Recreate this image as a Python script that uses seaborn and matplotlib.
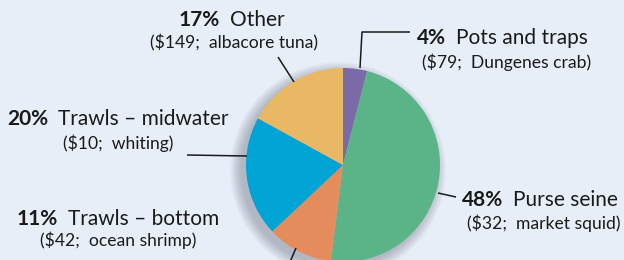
import matplotlib
matplotlib.use("Agg")
import matplotlib.pyplot as plt
import seaborn as sns
from matplotlib.patches import Circle

# Share of landings value by gear type (clockwise from 12 o'clock)
gears = ["Pots and traps", "Purse seine", "Trawls \u2013 bottom", "Trawls \u2013 midwater", "Other"]
shares = [4, 48, 11, 20, 17]
dollars = ["$79", "$32", "$42", "$10", "$149"]
species = ["Dungenes crab", "market squid", "ocean shrimp", "whiting", "albacore tuna"]
colors = ["#7A6AA8", "#5BB487", "#E58C5C", "#00A4D4", "#E9B865"]

BG = "#E8EEF8"
W, H = 624, 260

sns.set_theme(style="white")
plt.rcParams["font.family"] = ["Lato", "DejaVu Sans"]

fig = plt.figure(figsize=(W / 100, H / 100), dpi=100, facecolor=BG)
ax = fig.add_axes([0, 0, 1, 1])
ax.set_facecolor(BG)

cx, cy, r = 343, H - 165, 97

# soft drop shadow, mostly down-left of the pie
for k in range(12):
    ax.add_patch(Circle((cx - 5, cy - 5), r + 11 - k, color="#4a5060",
                        alpha=0.03, lw=0, zorder=1))

ax.pie(shares, colors=colors, startangle=90, counterclock=False,
       center=(cx, cy), radius=r, frame=True,
       wedgeprops=dict(linewidth=0, zorder=2))
ax.set_xlim(0, W)
ax.set_ylim(0, H)
ax.set_aspect("equal")
ax.axis("off")

# leader lines (pixel coords, y from top)
leaders = [
    [(360, 68), (362, 32), (410, 32)],
    [(438, 193), (456, 197)],
    [(290, 262), (296, 248)],
    [(247, 156), (187, 155)],
    [(294, 82), (278, 57)],
]
for pts in leaders:
    xs = [p[0] for p in pts]
    ys = [H - p[1] for p in pts]
    ax.plot(xs, ys, color="#1a1a1a", lw=1.1, zorder=3, solid_capstyle="butt")

# label layout: (line1 x start, line1 y, line2 x start, line2 y)
label_pos = [
    (417, 38, 422, 62),
    (462, 200, 467, 223),
    (17, 219, 40, 240),
    (7, 119, 63, 143),
    (179, 20, 150, 43),
]
fig.canvas.draw()
for g, s, d, sp, (x1, y1, x2, y2) in zip(gears, shares, dollars, species, label_pos):
    t = ax.text(x1, H - y1, f"{s}%", fontsize=15, fontweight="bold",
                color="#1a1a1a", ha="left", va="center", zorder=4)
    ax.annotate(g, xy=(1, 0), xycoords=t, xytext=(7, 0), textcoords="offset points",
                fontsize=15, color="#1a1a1a", ha="left", va="bottom", zorder=4)
    ax.text(x2, H - y2, f"({d};  {sp})", fontsize=12.6, color="#1a1a1a",
            ha="left", va="center", zorder=4)

fig.savefig("out.png", dpi=100, facecolor=BG)
